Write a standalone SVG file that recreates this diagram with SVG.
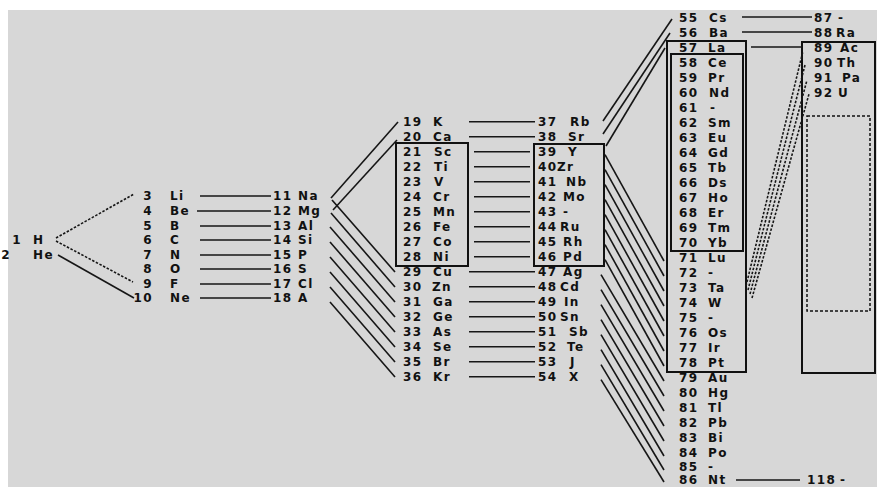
<svg xmlns="http://www.w3.org/2000/svg" width="877" height="487" viewBox="0 0 877 487">
<style>
.t text{font-family:"DejaVu Sans","Liberation Sans",sans-serif;font-size:12px;font-weight:bold;fill:#111;letter-spacing:1.4px}
.t .e{text-anchor:end}
#connectors line{stroke:#161616;stroke-width:1.6;fill:none}
#connectors .d{stroke-dasharray:2.5 1.6}
.b{fill:none;stroke:#111;stroke-width:2}
.db{fill:none;stroke:#111;stroke-width:1.5;stroke-dasharray:3 2}
</style>
<rect width="877" height="487" fill="#ffffff"/>
<rect x="8" y="10" width="869" height="477" fill="#d7d7d7"/>

<g id="boxes">
<rect class="b" x="396" y="143" width="72" height="123"/>
<rect class="b" x="534" y="144" width="70" height="122"/>
<rect class="b" x="667" y="41" width="79" height="331"/>
<rect class="b" x="671" y="54" width="72" height="197"/>
<rect class="b" x="802" y="42" width="73" height="331"/>
<rect class="db" x="807" y="116" width="63" height="195"/>
</g>

<g id="connectors">
<line class="d" x1="56" y1="238" x2="134" y2="194"/>
<line class="d" x1="56" y1="241" x2="133" y2="282"/>
<line x1="58" y1="255" x2="134" y2="298"/>
<line x1="200" y1="196" x2="271" y2="196"/>
<line x1="197" y1="211" x2="271" y2="211"/>
<line x1="200" y1="226" x2="271" y2="226"/>
<line x1="200" y1="240" x2="271" y2="240"/>
<line x1="200" y1="255" x2="271" y2="255"/>
<line x1="200" y1="269" x2="271" y2="269"/>
<line x1="200" y1="284" x2="271" y2="284"/>
<line x1="200" y1="298" x2="271" y2="298"/>
<line x1="331" y1="198" x2="398" y2="122"/>
<line x1="333" y1="210" x2="397" y2="140"/>
<line x1="332" y1="200" x2="395" y2="272"/>
<line x1="331" y1="213" x2="395" y2="287"/>
<line x1="330" y1="227" x2="395" y2="302"/>
<line x1="330" y1="242" x2="395" y2="317"/>
<line x1="330" y1="257" x2="395" y2="332"/>
<line x1="330" y1="272" x2="395" y2="347"/>
<line x1="330" y1="287" x2="395" y2="362"/>
<line x1="330" y1="302" x2="395" y2="377"/>
<line x1="469" y1="121.7" x2="535" y2="121.7"/>
<line x1="469" y1="136.7" x2="535" y2="136.7"/>
<line x1="474" y1="151.7" x2="530" y2="151.7"/>
<line x1="474" y1="166.7" x2="530" y2="166.7"/>
<line x1="474" y1="181.7" x2="530" y2="181.7"/>
<line x1="474" y1="196.7" x2="530" y2="196.7"/>
<line x1="474" y1="211.7" x2="530" y2="211.7"/>
<line x1="474" y1="226.7" x2="530" y2="226.7"/>
<line x1="474" y1="241.7" x2="530" y2="241.7"/>
<line x1="474" y1="256.7" x2="530" y2="256.7"/>
<line x1="469" y1="271.7" x2="535" y2="271.7"/>
<line x1="469" y1="286.7" x2="535" y2="286.7"/>
<line x1="469" y1="301.7" x2="535" y2="301.7"/>
<line x1="469" y1="316.7" x2="535" y2="316.7"/>
<line x1="469" y1="331.7" x2="535" y2="331.7"/>
<line x1="469" y1="346.7" x2="535" y2="346.7"/>
<line x1="469" y1="361.7" x2="535" y2="361.7"/>
<line x1="469" y1="376.7" x2="535" y2="376.7"/>
<line x1="603" y1="121" x2="672" y2="19"/>
<line x1="603" y1="134" x2="670" y2="33"/>
<line x1="606" y1="146" x2="665" y2="48"/>
<line x1="605" y1="154.7" x2="664" y2="261"/>
<line x1="605" y1="169.7" x2="664" y2="276"/>
<line x1="605" y1="184.7" x2="664" y2="291"/>
<line x1="605" y1="199.7" x2="664" y2="306"/>
<line x1="605" y1="214.7" x2="664" y2="321"/>
<line x1="605" y1="229.7" x2="664" y2="336"/>
<line x1="605" y1="244.7" x2="664" y2="351"/>
<line x1="605" y1="259.7" x2="664" y2="366"/>
<line x1="601" y1="274.7" x2="664" y2="381"/>
<line x1="601" y1="289.7" x2="664" y2="396"/>
<line x1="601" y1="304.7" x2="664" y2="411"/>
<line x1="601" y1="319.7" x2="664" y2="426"/>
<line x1="601" y1="334.7" x2="664" y2="441"/>
<line x1="601" y1="349.7" x2="664" y2="456"/>
<line x1="601" y1="364.7" x2="664" y2="470"/>
<line x1="601" y1="379.7" x2="664" y2="482"/>
<line x1="742" y1="17" x2="812" y2="17"/>
<line x1="742" y1="32" x2="812" y2="32"/>
<line x1="751" y1="47" x2="802" y2="47"/>
<line x1="736" y1="480" x2="800" y2="480"/>
<line class="d" x1="746" y1="286" x2="803" y2="51"/>
<line class="d" x1="748" y1="290" x2="805" y2="65"/>
<line class="d" x1="750" y1="294" x2="807" y2="80"/>
<line class="d" x1="752" y1="298" x2="809" y2="94"/>
</g>

<g class="t">
<g id="el-1"><text class="e" x="22" y="244">1</text><text x="33" y="244">H</text></g>
<g id="el-2"><text class="e" x="11" y="259">2</text><text x="33" y="259">He</text></g>

<g id="el-3"><text class="e" x="153" y="200">3</text><text x="170" y="200">Li</text></g>
<g id="el-4"><text class="e" x="153" y="215">4</text><text x="170" y="215">Be</text></g>
<g id="el-5"><text class="e" x="153" y="230">5</text><text x="170" y="230">B</text></g>
<g id="el-6"><text class="e" x="153" y="244">6</text><text x="170" y="244">C</text></g>
<g id="el-7"><text class="e" x="153" y="259">7</text><text x="170" y="259">N</text></g>
<g id="el-8"><text class="e" x="153" y="273">8</text><text x="170" y="273">O</text></g>
<g id="el-9"><text class="e" x="153" y="288">9</text><text x="170" y="288">F</text></g>
<g id="el-10"><text class="e" x="153" y="302">10</text><text x="170" y="302">Ne</text></g>

<g id="el-11"><text x="273" y="200">11</text><text x="298" y="200">Na</text></g>
<g id="el-12"><text x="273" y="215">12</text><text x="298" y="215">Mg</text></g>
<g id="el-13"><text x="273" y="230">13</text><text x="298" y="230">Al</text></g>
<g id="el-14"><text x="273" y="244">14</text><text x="298" y="244">Si</text></g>
<g id="el-15"><text x="273" y="259">15</text><text x="298" y="259">P</text></g>
<g id="el-16"><text x="273" y="273">16</text><text x="298" y="273">S</text></g>
<g id="el-17"><text x="273" y="288">17</text><text x="298" y="288">Cl</text></g>
<g id="el-18"><text x="273" y="302">18</text><text x="298" y="302">A</text></g>

<g id="el-19"><text x="403" y="126">19</text><text x="433" y="126">K</text></g>
<g id="el-20"><text x="403" y="141">20</text><text x="433" y="141">Ca</text></g>
<g id="el-21"><text x="403" y="156">21</text><text x="434" y="156">Sc</text></g>
<g id="el-22"><text x="403" y="171">22</text><text x="434" y="171">Ti</text></g>
<g id="el-23"><text x="403" y="186">23</text><text x="434" y="186">V</text></g>
<g id="el-24"><text x="403" y="201">24</text><text x="433" y="201">Cr</text></g>
<g id="el-25"><text x="403" y="216">25</text><text x="433" y="216">Mn</text></g>
<g id="el-26"><text x="403" y="231">26</text><text x="433" y="231">Fe</text></g>
<g id="el-27"><text x="403" y="246">27</text><text x="433" y="246">Co</text></g>
<g id="el-28"><text x="403" y="261">28</text><text x="433" y="261">Ni</text></g>
<g id="el-29"><text x="403" y="276">29</text><text x="433" y="276">Cu</text></g>
<g id="el-30"><text x="403" y="291">30</text><text x="432" y="291">Zn</text></g>
<g id="el-31"><text x="403" y="306">31</text><text x="433" y="306">Ga</text></g>
<g id="el-32"><text x="403" y="321">32</text><text x="433" y="321">Ge</text></g>
<g id="el-33"><text x="403" y="336">33</text><text x="433" y="336">As</text></g>
<g id="el-34"><text x="403" y="351">34</text><text x="433" y="351">Se</text></g>
<g id="el-35"><text x="403" y="366">35</text><text x="433" y="366">Br</text></g>
<g id="el-36"><text x="403" y="381">36</text><text x="433" y="381">Kr</text></g>

<g id="el-37"><text x="538" y="126">37</text><text x="570" y="126">Rb</text></g>
<g id="el-38"><text x="538" y="141">38</text><text x="568" y="141">Sr</text></g>
<g id="el-39"><text x="538" y="156">39</text><text x="568" y="156">Y</text></g>
<g id="el-40"><text x="538" y="171">40</text><text x="557" y="171">Zr</text></g>
<g id="el-41"><text x="538" y="186">41</text><text x="566" y="186">Nb</text></g>
<g id="el-42"><text x="538" y="201">42</text><text x="563" y="201">Mo</text></g>
<g id="el-43"><text x="538" y="216">43</text><text x="563" y="216">-</text></g>
<g id="el-44"><text x="538" y="231">44</text><text x="560" y="231">Ru</text></g>
<g id="el-45"><text x="538" y="246">45</text><text x="563" y="246">Rh</text></g>
<g id="el-46"><text x="538" y="261">46</text><text x="563" y="261">Pd</text></g>
<g id="el-47"><text x="538" y="276">47</text><text x="563" y="276">Ag</text></g>
<g id="el-48"><text x="538" y="291">48</text><text x="560" y="291">Cd</text></g>
<g id="el-49"><text x="538" y="306">49</text><text x="564" y="306">In</text></g>
<g id="el-50"><text x="538" y="321">50</text><text x="560" y="321">Sn</text></g>
<g id="el-51"><text x="538" y="336">51</text><text x="569" y="336">Sb</text></g>
<g id="el-52"><text x="538" y="351">52</text><text x="567" y="351">Te</text></g>
<g id="el-53"><text x="538" y="366">53</text><text x="570" y="366">J</text></g>
<g id="el-54"><text x="538" y="381">54</text><text x="569" y="381">X</text></g>

<g id="el-55"><text x="679" y="21.5">55</text><text x="709" y="21.5">Cs</text></g>
<g id="el-56"><text x="679" y="36.5">56</text><text x="709" y="36.5">Ba</text></g>
<g id="el-57"><text x="679" y="51.5">57</text><text x="708" y="51.5">La</text></g>
<g id="el-58"><text x="679" y="66.5">58</text><text x="708" y="66.5">Ce</text></g>
<g id="el-59"><text x="679" y="81.5">59</text><text x="708" y="81.5">Pr</text></g>
<g id="el-60"><text x="679" y="96.5">60</text><text x="709" y="96.5">Nd</text></g>
<g id="el-61"><text x="679" y="111.5">61</text><text x="710" y="111.5">-</text></g>
<g id="el-62"><text x="679" y="126.5">62</text><text x="708" y="126.5">Sm</text></g>
<g id="el-63"><text x="679" y="141.5">63</text><text x="708" y="141.5">Eu</text></g>
<g id="el-64"><text x="679" y="156.5">64</text><text x="708" y="156.5">Gd</text></g>
<g id="el-65"><text x="679" y="171.5">65</text><text x="708" y="171.5">Tb</text></g>
<g id="el-66"><text x="679" y="186.5">66</text><text x="708" y="186.5">Ds</text></g>
<g id="el-67"><text x="679" y="201.5">67</text><text x="708" y="201.5">Ho</text></g>
<g id="el-68"><text x="679" y="216.5">68</text><text x="708" y="216.5">Er</text></g>
<g id="el-69"><text x="679" y="231.5">69</text><text x="708" y="231.5">Tm</text></g>
<g id="el-70"><text x="679" y="246.5">70</text><text x="708" y="246.5">Yb</text></g>
<g id="el-71"><text x="679" y="261.5">71</text><text x="708" y="261.5">Lu</text></g>
<g id="el-72"><text x="679" y="276.5">72</text><text x="708" y="276.5">-</text></g>
<g id="el-73"><text x="679" y="291.5">73</text><text x="708" y="291.5">Ta</text></g>
<g id="el-74"><text x="679" y="306.5">74</text><text x="708" y="306.5">W</text></g>
<g id="el-75"><text x="679" y="321.5">75</text><text x="708" y="321.5">-</text></g>
<g id="el-76"><text x="679" y="336.5">76</text><text x="708" y="336.5">Os</text></g>
<g id="el-77"><text x="679" y="351.5">77</text><text x="708" y="351.5">Ir</text></g>
<g id="el-78"><text x="679" y="366.5">78</text><text x="708" y="366.5">Pt</text></g>
<g id="el-79"><text x="679" y="381.5">79</text><text x="708" y="381.5">Au</text></g>
<g id="el-80"><text x="679" y="396.5">80</text><text x="708" y="396.5">Hg</text></g>
<g id="el-81"><text x="679" y="411.5">81</text><text x="708" y="411.5">Tl</text></g>
<g id="el-82"><text x="679" y="426.5">82</text><text x="708" y="426.5">Pb</text></g>
<g id="el-83"><text x="679" y="441.5">83</text><text x="708" y="441.5">Bi</text></g>
<g id="el-84"><text x="679" y="456.5">84</text><text x="708" y="456.5">Po</text></g>
<g id="el-85"><text x="679" y="471">85</text><text x="708" y="471">-</text></g>
<g id="el-86"><text x="679" y="484">86</text><text x="708" y="484">Nt</text></g>

<g id="el-87"><text x="814" y="21.5">87</text><text x="838" y="21.5">-</text></g>
<g id="el-88"><text x="814" y="36.5">88</text><text x="836" y="36.5">Ra</text></g>
<g id="el-89"><text x="814" y="51.5">89</text><text x="840" y="51.5">Ac</text></g>
<g id="el-90"><text x="814" y="66.5">90</text><text x="837" y="66.5">Th</text></g>
<g id="el-91"><text x="814" y="81.5">91</text><text x="842" y="81.5">Pa</text></g>
<g id="el-92"><text x="814" y="96.5">92</text><text x="838" y="96.5">U</text></g>
<g id="el-118"><text x="807" y="484">118</text><text x="840" y="484">-</text></g>
</g>
</svg>
